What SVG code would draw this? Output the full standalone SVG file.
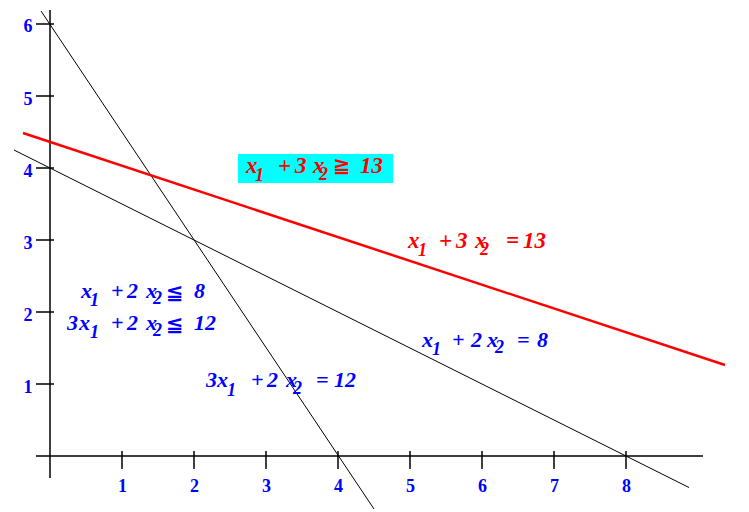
<svg xmlns="http://www.w3.org/2000/svg" width="749" height="512" viewBox="0 0 749 512">
<style>
.ax{stroke:#000;stroke-width:1.5;fill:none}
.ln{stroke:#000;stroke-width:1;fill:none}
.rl{stroke:#ff0000;stroke-width:2.5;fill:none}
.tk{font-family:"Liberation Serif",serif;font-weight:bold;font-size:18px;fill:#0000ff;text-anchor:middle}
.lb{font-family:"Liberation Serif","DejaVu Serif",serif;font-weight:bold;font-style:italic;font-size:22px}
.sb{font-size:18px}
.bl{fill:#0000ff}
.rd{fill:#ff0000}
.rel{font-family:"DejaVu Sans",sans-serif;font-style:normal;font-weight:bold;font-size:21px}
</style>
<rect width="749" height="512" fill="#fff"/>
<g id="axes">
<line class="ax" x1="50" y1="10" x2="50" y2="478"/>
<line class="ax" x1="36" y1="456" x2="703" y2="456"/>
<g id="yticks">
<line class="ax" x1="36" y1="24" x2="54" y2="24"/>
<line class="ax" x1="36" y1="96" x2="54" y2="96"/>
<line class="ax" x1="36" y1="168" x2="54" y2="168"/>
<line class="ax" x1="36" y1="240" x2="54" y2="240"/>
<line class="ax" x1="36" y1="312" x2="54" y2="312"/>
<line class="ax" x1="36" y1="384" x2="54" y2="384"/>
</g>
<g id="xticks">
<line class="ax" x1="122" y1="451" x2="122" y2="469"/>
<line class="ax" x1="194" y1="451" x2="194" y2="469"/>
<line class="ax" x1="266" y1="451" x2="266" y2="469"/>
<line class="ax" x1="338" y1="451" x2="338" y2="469"/>
<line class="ax" x1="410" y1="451" x2="410" y2="469"/>
<line class="ax" x1="482" y1="451" x2="482" y2="469"/>
<line class="ax" x1="554" y1="451" x2="554" y2="469"/>
<line class="ax" x1="626" y1="451" x2="626" y2="469"/>
</g>
<g id="ylabels">
<text class="tk" x="28" y="32">6</text>
<text class="tk" x="28" y="105">5</text>
<text class="tk" x="28" y="177">4</text>
<text class="tk" x="28" y="249">3</text>
<text class="tk" x="28" y="321">2</text>
<text class="tk" x="28" y="393">1</text>
</g>
<g id="xlabels">
<text class="tk" x="122.5" y="492">1</text>
<text class="tk" x="194.5" y="492">2</text>
<text class="tk" x="266.5" y="492">3</text>
<text class="tk" x="338.5" y="492">4</text>
<text class="tk" x="410.5" y="492">5</text>
<text class="tk" x="482.5" y="492">6</text>
<text class="tk" x="554.5" y="492">7</text>
<text class="tk" x="626.5" y="492">8</text>
</g>
</g>
<g id="connectors">
<line id="line-3x1-2x2-12" class="ln" x1="41" y1="11" x2="374" y2="509"/>
<line id="line-x1-2x2-8" class="ln" x1="14" y1="150" x2="689" y2="487.5"/>
<line id="line-x1-3x2-13" class="rl" x1="23" y1="133" x2="725" y2="365"/>
</g>
<g id="label-ge13">
<rect x="238" y="154" width="155" height="29" fill="#00ffff"/>
<text class="lb rd" style="font-size:23px"><tspan x="246" y="173">x</tspan><tspan class="sb" x="255" y="181">1</tspan><tspan x="278" y="173">+</tspan><tspan x="295" y="173">3</tspan><tspan x="313" y="173">x</tspan><tspan class="sb" x="319" y="180">2</tspan><tspan class="rel" x="333" y="172">≧</tspan><tspan x="360" y="173">13</tspan></text>
</g>
<g id="label-eq13">
<text class="lb rd" style="font-size:23px"><tspan x="408" y="248">x</tspan><tspan class="sb" x="418" y="256">1</tspan><tspan x="439" y="248">+</tspan><tspan x="456" y="248">3</tspan><tspan x="475" y="248">x</tspan><tspan class="sb" x="480" y="255">2</tspan><tspan x="506" y="248">=</tspan><tspan x="523" y="248">13</tspan></text>
</g>
<g id="label-eq8">
<text class="lb bl"><tspan x="422" y="347">x</tspan><tspan class="sb" x="432" y="355">1</tspan><tspan x="452" y="347">+</tspan><tspan x="471" y="347">2</tspan><tspan x="487" y="347">x</tspan><tspan class="sb" x="495" y="353">2</tspan><tspan x="517" y="347">=</tspan><tspan x="537" y="347">8</tspan></text>
</g>
<g id="label-eq12">
<text class="lb bl"><tspan x="206" y="387">3</tspan><tspan x="217" y="387">x</tspan><tspan class="sb" x="227" y="396">1</tspan><tspan x="251" y="387">+</tspan><tspan x="267" y="387">2</tspan><tspan x="286" y="387">x</tspan><tspan class="sb" x="293" y="394">2</tspan><tspan x="316" y="387">=</tspan><tspan x="334" y="387">12</tspan></text>
</g>
<g id="label-le8">
<text class="lb bl"><tspan x="81" y="298">x</tspan><tspan class="sb" x="90" y="306">1</tspan><tspan x="111" y="298">+</tspan><tspan x="127" y="298">2</tspan><tspan x="146" y="298">x</tspan><tspan class="sb" x="153" y="304">2</tspan><tspan class="rel" x="166" y="299">≦</tspan><tspan x="194" y="298">8</tspan></text>
</g>
<g id="label-le12">
<text class="lb bl"><tspan x="67" y="330">3</tspan><tspan x="79" y="330">x</tspan><tspan class="sb" x="90" y="338">1</tspan><tspan x="111" y="330">+</tspan><tspan x="127" y="330">2</tspan><tspan x="146" y="330">x</tspan><tspan class="sb" x="153" y="336">2</tspan><tspan class="rel" x="166" y="331">≦</tspan><tspan x="194" y="330">12</tspan></text>
</g>
</svg>
